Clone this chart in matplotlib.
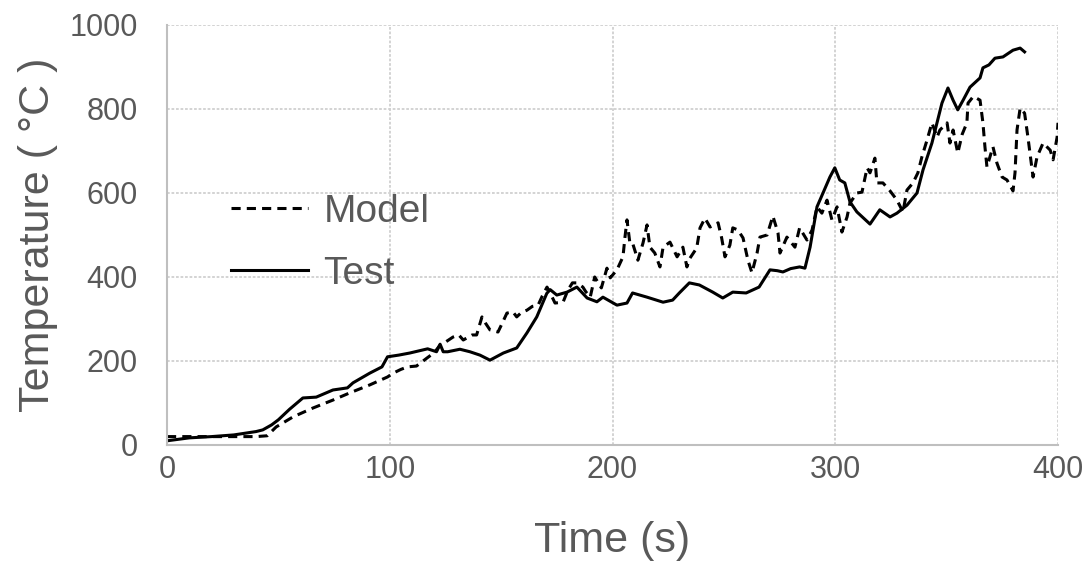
import matplotlib
matplotlib.use("Agg")
import matplotlib.pyplot as plt

plt.rcParams['font.family'] = ['Liberation Sans', 'DejaVu Sans']

# Test (solid) data
test_t = [0, 10, 20, 30, 40, 43, 47, 50, 55, 61, 67, 74.5, 81, 83.5, 91, 96.5, 99, 104, 109, 117,
          121, 122.6, 124, 126, 131.5, 136, 140.5, 145, 151, 157, 161.6, 166, 170.5, 172, 175, 179.6,
          184, 188.6, 193, 195.7, 202, 206.5, 209, 215.5, 222.7, 227, 230, 234.5, 239, 245, 249.5,
          254, 260, 265.8, 270.7, 274, 276.5, 280, 284, 286.4, 288.7, 291.8, 294.5, 297.6, 299.8,
          302, 304.3, 306.6, 309.7, 315.6, 320, 324.6, 327.7, 332.2, 336.7, 339.4, 343.4, 347.9,
          350.6, 352.9, 355, 357.4, 360.5, 365, 366.3, 369, 371.7, 375.3, 379.8, 383, 385]
test_T = [10, 17, 20, 24, 32, 36, 48, 60, 85, 112, 114, 131, 136, 148, 171, 186, 210, 214, 219, 229,
          222, 240, 222, 222, 228, 222, 214, 202, 219, 231, 267, 305, 361, 370, 357, 364,
          376, 350, 341, 352, 333, 338, 362, 352, 340, 345, 362, 386, 381, 364, 350,
          364, 362, 376, 417, 415, 412, 420, 424, 421, 471, 567, 600, 638, 660,
          631, 624, 579, 555, 526, 560, 543, 552, 571, 600, 655, 719, 814,
          850, 821, 798, 821, 852, 874, 898, 905, 921, 924, 940, 945, 936]

# Model (dashed) data
model_t = [0, 10, 20, 30, 40, 45, 49, 56.6, 65.5, 74.5, 82, 91, 99, 101.5, 105, 108, 112, 116.7, 120,
           122.6, 125, 128.4, 131, 133, 137, 139, 141.4, 143, 145, 148.6, 150.5, 152.6, 155.3, 157,
           159, 161.6, 164, 166.6, 168.5, 170.6, 172, 174.2, 177.8, 180, 182, 184, 186.7, 188, 190,
           192, 195, 197.5, 199, 202, 204.7, 205.6, 206.5, 207.8, 209, 211.4, 213.7, 215.5, 216.8,
           219, 221.3, 222.7, 225.8, 229, 231.6, 233.4, 234.8, 237.8, 239.3, 241.5, 243.8, 247.4,
           249, 250.5, 252.7, 254, 256.3, 258.6, 260.8, 262.6, 264.9, 266.2, 269.4, 272, 274.3,
           275.2, 278.3, 281.9, 284, 287.3, 289.6, 291.8, 294, 296.3, 298.5, 300.8, 303, 305.3,
           306.6, 309.7, 312, 314.3, 315.6, 317.8, 318.7, 321.4, 324.6, 327.7, 330.4, 332.2, 334.9,
           337.1, 338.9, 341.2, 343.4, 345.7, 347, 350.2, 351.5, 352.9, 355, 357, 359.1, 359.6, 362,
           365, 366.3, 367.2, 368.1, 370.8, 372.6, 374.9, 377.1, 379.8, 380.7, 381.6, 383, 385,
           386.5, 388.8, 390.6, 393.3, 396.5, 397.8, 399.6, 400]
model_T = [20, 20, 20, 20, 20, 22, 43, 67, 88, 107, 124, 143, 162, 171, 180, 186, 188, 207, 220,
           238, 245, 257, 262, 250, 262, 262, 305, 290, 274, 269, 290, 314, 317, 305,
           315, 321, 330, 333, 355, 376, 362, 338, 340, 369, 386, 386, 376, 365, 352,
           400, 374, 421, 398, 417, 448, 495, 536, 481, 481, 440, 481, 524, 471,
           457, 424, 471, 483, 448, 471, 424, 445, 469, 517, 540, 519, 529,
           493, 448, 476, 517, 512, 493, 440, 410, 457, 495, 500, 545, 505,
           457, 495, 471, 517, 488, 512, 567, 552, 583, 536, 567, 507, 543,
           576, 600, 602, 660, 648, 683, 624, 624, 605, 583, 555, 607, 624,
           648, 686, 726, 767, 733, 750, 767, 719, 750, 695, 740, 767, 814, 830,
           821, 767, 710, 662, 710, 671, 638, 631, 605, 648, 750, 802, 790,
           733, 638, 686, 719, 702, 679, 733, 767]

x_ticks = [0, 100, 200, 300, 400]
y_ticks = [0, 200, 400, 600, 800, 1000]

gray_text = '#595959'

fig = plt.figure(figsize=(10.89, 5.63), dpi=100)
ax = fig.add_axes([167/1089, 118/563, 891/1089, 420/563])

ax.plot(model_t, model_T, color='black', lw=2.2, ls=(0, (3, 2)), label='Model')
ax.plot(test_t, test_T, color='black', lw=2.2, ls='-', label='Test')

ax.set_xlim(0, 400)
ax.set_ylim(0, 1000)
ax.set_xticks(x_ticks)
ax.set_yticks(y_ticks)
ax.grid(True, color='#d0d0d0', ls=(0, (1.5, 1)), lw=1.3)
ax.set_axisbelow(True)
for s in ['top', 'right']:
    ax.spines[s].set_visible(False)
for s in ['left', 'bottom']:
    ax.spines[s].set_color('#bfbfbf')
    ax.spines[s].set_linewidth(1.5)

ax.tick_params(axis='both', length=0, labelsize=22, labelcolor=gray_text)
ax.tick_params(axis='y', pad=21)
ax.tick_params(axis='x', pad=7)

ax.set_xlabel('Time (s)', fontsize=31, color=gray_text)
ax.set_ylabel('Temperature ( °C )', fontsize=31, color=gray_text)
ax.xaxis.set_label_coords(0.5, -0.229)
ax.xaxis.label.set_va('center')
ax.yaxis.set_label_coords(-0.145, 0.5)
ax.yaxis.label.set_va('center')

leg = ax.legend(loc='center left', bbox_to_anchor=(0.033, 0.482), frameon=False,
                fontsize=28, handlelength=1.98, handletextpad=0.39, labelspacing=0.67,
                labelcolor=gray_text)

fig.savefig('out.png', dpi=100)
